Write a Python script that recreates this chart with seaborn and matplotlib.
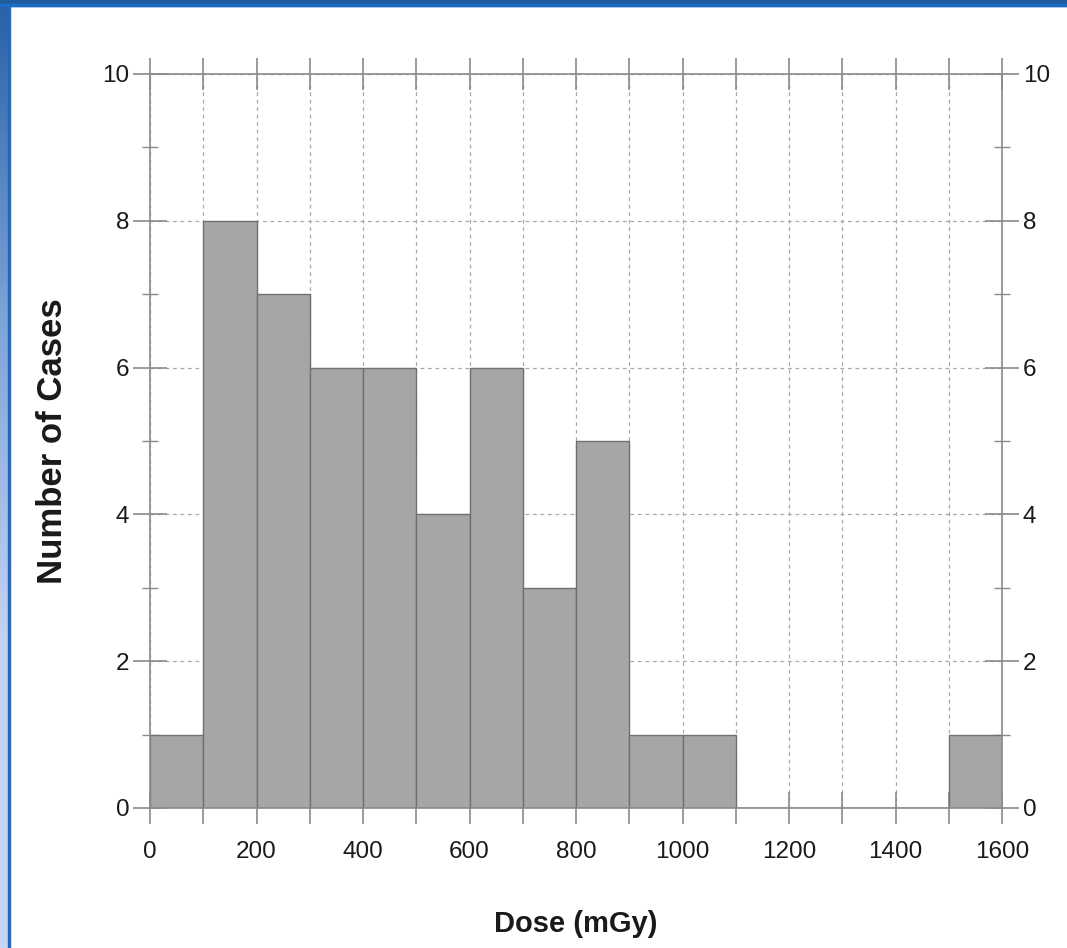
import numpy as np
import matplotlib
matplotlib.use("Agg")
import matplotlib.pyplot as plt
import seaborn as sns
from matplotlib.ticker import MultipleLocator

# --- Data ---
dose_bin_start = [0, 100, 200, 300, 400, 500, 600, 700, 800, 900,
                  1000, 1100, 1200, 1300, 1400, 1500]
case_counts = [1, 8, 7, 6, 6, 4, 6, 3, 5, 1, 1, 0, 0, 0, 0, 1]
bin_width = 100
x_tick_values = list(range(0, 1700, 100))
y_tick_values = [0, 2, 4, 6, 8, 10]

bin_edges = dose_bin_start + [dose_bin_start[-1] + bin_width]
dose_mid = [b + bin_width / 2 for b in dose_bin_start]

# --- Style ---
sns.set_style("white")
plt.rcParams['font.family'] = ['Liberation Sans', 'DejaVu Sans']

AX_COLOR = "#8a8a8a"
TXT_COLOR = "#1a1a1a"
fig = plt.figure(figsize=(10.67, 9.48), dpi=100)

# slide frame: blue band on top, gradient strip on left
fw, fh = 1067, 948
fig.patches.append(plt.Rectangle((0, 1 - 6 / fh), 1, 6 / fh, transform=fig.transFigure,
                                 color="#1f5e9e", zorder=0))
fig.patches.append(plt.Rectangle((0, 1 - 6 / fh), 1, 2 / fh, transform=fig.transFigure,
                                 color="#1a6cc8", zorder=1))
grad_ax = fig.add_axes([0, 0, 8 / fw, 1 - 6 / fh])
grad = np.linspace(0, 1, 256).reshape(-1, 1)
cmap = matplotlib.colors.LinearSegmentedColormap.from_list(
    "frame", ["#2a62a6", "#7fa3d6", "#c3d1f0", "#c8d4f2"])
grad_ax.imshow(grad, aspect="auto", cmap=cmap, origin="upper")
grad_ax.set_axis_off()
fig.patches.append(plt.Rectangle((8 / fw, 0), 2 / fw, 1 - 4 / fh, transform=fig.transFigure,
                                 color="#1a6cc8", zorder=1))

# --- Main histogram ---
ax = fig.add_axes([150 / fw, (948 - 808) / fh, (1002 - 150) / fw, (808 - 74) / fh])
sns.histplot(x=dose_mid, weights=case_counts, bins=bin_edges, ax=ax,
             color="#a6a6a6", edgecolor="#707070", linewidth=1.0, alpha=1)

ax.set_xlim(0, 1600)
ax.set_ylim(0, 10)
ax.set_axisbelow(True)

ax.set_xticks(x_tick_values)
ax.set_xticklabels([str(v) if v % 200 == 0 else "" for v in x_tick_values])
ax.set_yticks(y_tick_values)
ax.yaxis.set_minor_locator(MultipleLocator(1))

ax.grid(True, which="major", color="#a8a8a8", linestyle=(0, (3, 3)), linewidth=0.9)

for s in ax.spines.values():
    s.set_visible(True)
    s.set_color(AX_COLOR)
    s.set_linewidth(1.2)

ax.tick_params(axis="x", which="major", direction="inout", length=23, width=1.2,
               color=AX_COLOR, top=True, bottom=True, labelsize=17.5, pad=12,
               labelcolor=TXT_COLOR)
ax.tick_params(axis="y", which="major", direction="inout", length=24, width=1.2,
               color=AX_COLOR, left=True, right=True, labelleft=True,
               labelright=True, labelsize=17.5, pad=3, labelcolor=TXT_COLOR)
ax.tick_params(axis="y", which="minor", direction="inout", length=12, width=1.0,
               color=AX_COLOR, left=True, right=True)

ax.set_xlabel("Dose (mGy)", fontsize=21, fontweight="bold", labelpad=34,
              color=TXT_COLOR)
ax.set_ylabel("Number of Cases", fontsize=25, fontweight="bold", labelpad=24,
              color=TXT_COLOR)

fig.savefig("out.png", dpi=100)
